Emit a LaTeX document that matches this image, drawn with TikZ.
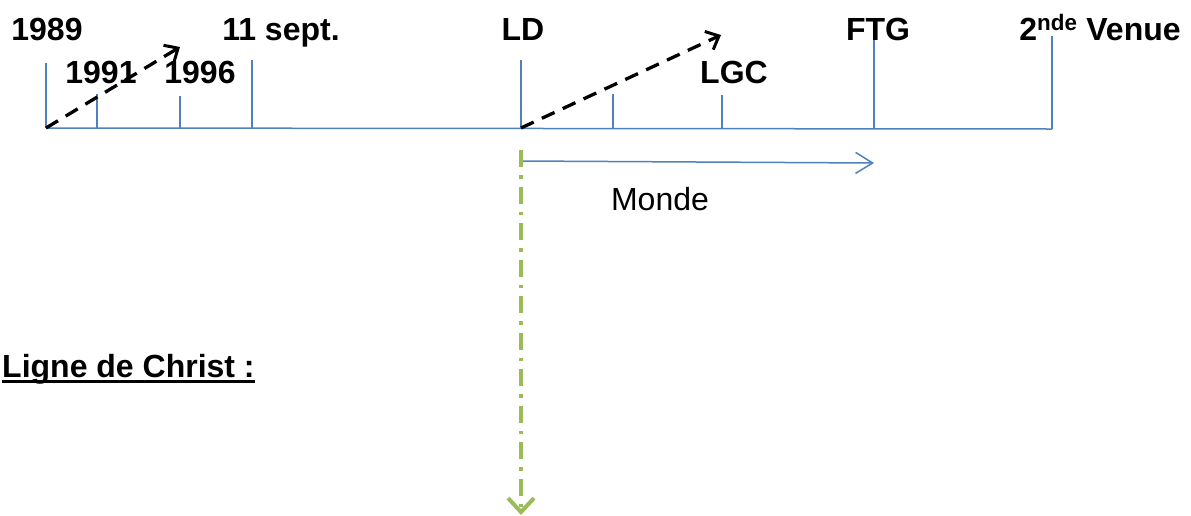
\documentclass[tikz,border=0pt]{standalone}
\usepackage{fontspec}
\setmainfont{Liberation Sans}
\newcommand{\myul}[1]{\setbox0\hbox{#1}\rlap{\rule[-6pt]{\wd0}{2.8pt}}\box0}
\usetikzlibrary{arrows.meta}
\definecolor{tlblue}{HTML}{4F81BD}
\definecolor{tlgreen}{HTML}{9BBB59}
\tikzset{
  x=1pt, y=-1pt,
  axis/.style={tlblue, line width=1.5pt},
  tick/.style={tlblue, line width=1.5pt},
  lbl/.style={anchor=base, inner sep=0pt, font=\fontsize{32}{38}\selectfont\bfseries},
  plain/.style={anchor=base, inner sep=0pt, font=\fontsize{32}{38}\selectfont},
  jump/.style={black, line width=3.3pt, dash pattern=on 14pt off 9pt, -{Straight Barb[length=11pt,width=20pt,line width=3pt]}},
  christ/.style={tlgreen, line width=3.5pt, dash pattern=on 17pt off 8pt on 3.5pt off 8pt, -{Straight Barb[length=14pt,width=26pt,line width=4pt]}},
  monde/.style={tlblue, line width=1.5pt, -{Straight Barb[length=17pt,width=21pt,line width=1.5pt]}}
}
\begin{document}
\begin{tikzpicture}
\useasboundingbox (0,0) rectangle (1191,515);
% axis end points
\coordinate (s) at (46,128);
\coordinate (e) at (1052,129);
\draw[axis] (s) -- (e);
% ticks
\coordinate (t1989) at (46,63);
\coordinate (b1991) at (97,128);  \coordinate (t1991) at (97,94);
\coordinate (b1996) at (180,128); \coordinate (t1996) at (180,96);
\coordinate (b11s) at (252,128);  \coordinate (t11s) at (252,60);
\coordinate (bLD) at (521,128);   \coordinate (tLD) at (521,60);
\coordinate (bX) at (613,128);    \coordinate (tX) at (613,94);
\coordinate (bLGC) at (722,128);  \coordinate (tLGC) at (722,95);
\coordinate (bFTG) at (874,128);  \coordinate (tFTG) at (874,39);
\coordinate (tV) at (1052,36);
\draw[tick] (s) -- (t1989);
\draw[tick] (b1991) -- (t1991);
\draw[tick] (b1996) -- (t1996);
\draw[tick] (b11s) -- (t11s);
\draw[tick] (bLD) -- (tLD);
\draw[tick] (bX) -- (tX);
\draw[tick] (bLGC) -- (tLGC);
\draw[tick] (bFTG) -- (tFTG);
\draw[tick] (e) -- (tV);
% labels
\node[lbl] (l1989) at (47,40) {1989};
\node[lbl] (l1991) at (101,83) {1991};
\node[lbl] (l1996) at (200,83) {1996};
\node[lbl] (l11s) at (281,40) {11 sept.};
\node[lbl] (lLD) at (523,40) {LD};
\node[lbl] (lLGC) at (734,83) {LGC};
\node[lbl] (lFTG) at (878,40) {FTG};
\node[lbl] (lV) at (1100,40) {2\textsuperscript{nde} Venue};
% dashed jumps
\coordinate (j1) at (180,47);
\coordinate (j2) at (721,35);
\draw[jump] (s) -- (j1);
\draw[jump] (bLD) -- (j2);
% Monde
\coordinate (m0) at (521,161);
\coordinate (m1) at (874,163);
\draw[monde] (m0) -- (m1);
\node[plain] (lMonde) at (660,210) {Monde};
% Ligne de Christ
\coordinate (c0) at (521,150);
\coordinate (c1) at (521,515);
\draw[christ] (c0) -- (c1);
\node[lbl, anchor=base west] (lChrist) at (2,377) {\myul{Ligne de Christ :}};
\end{tikzpicture}
\end{document}
